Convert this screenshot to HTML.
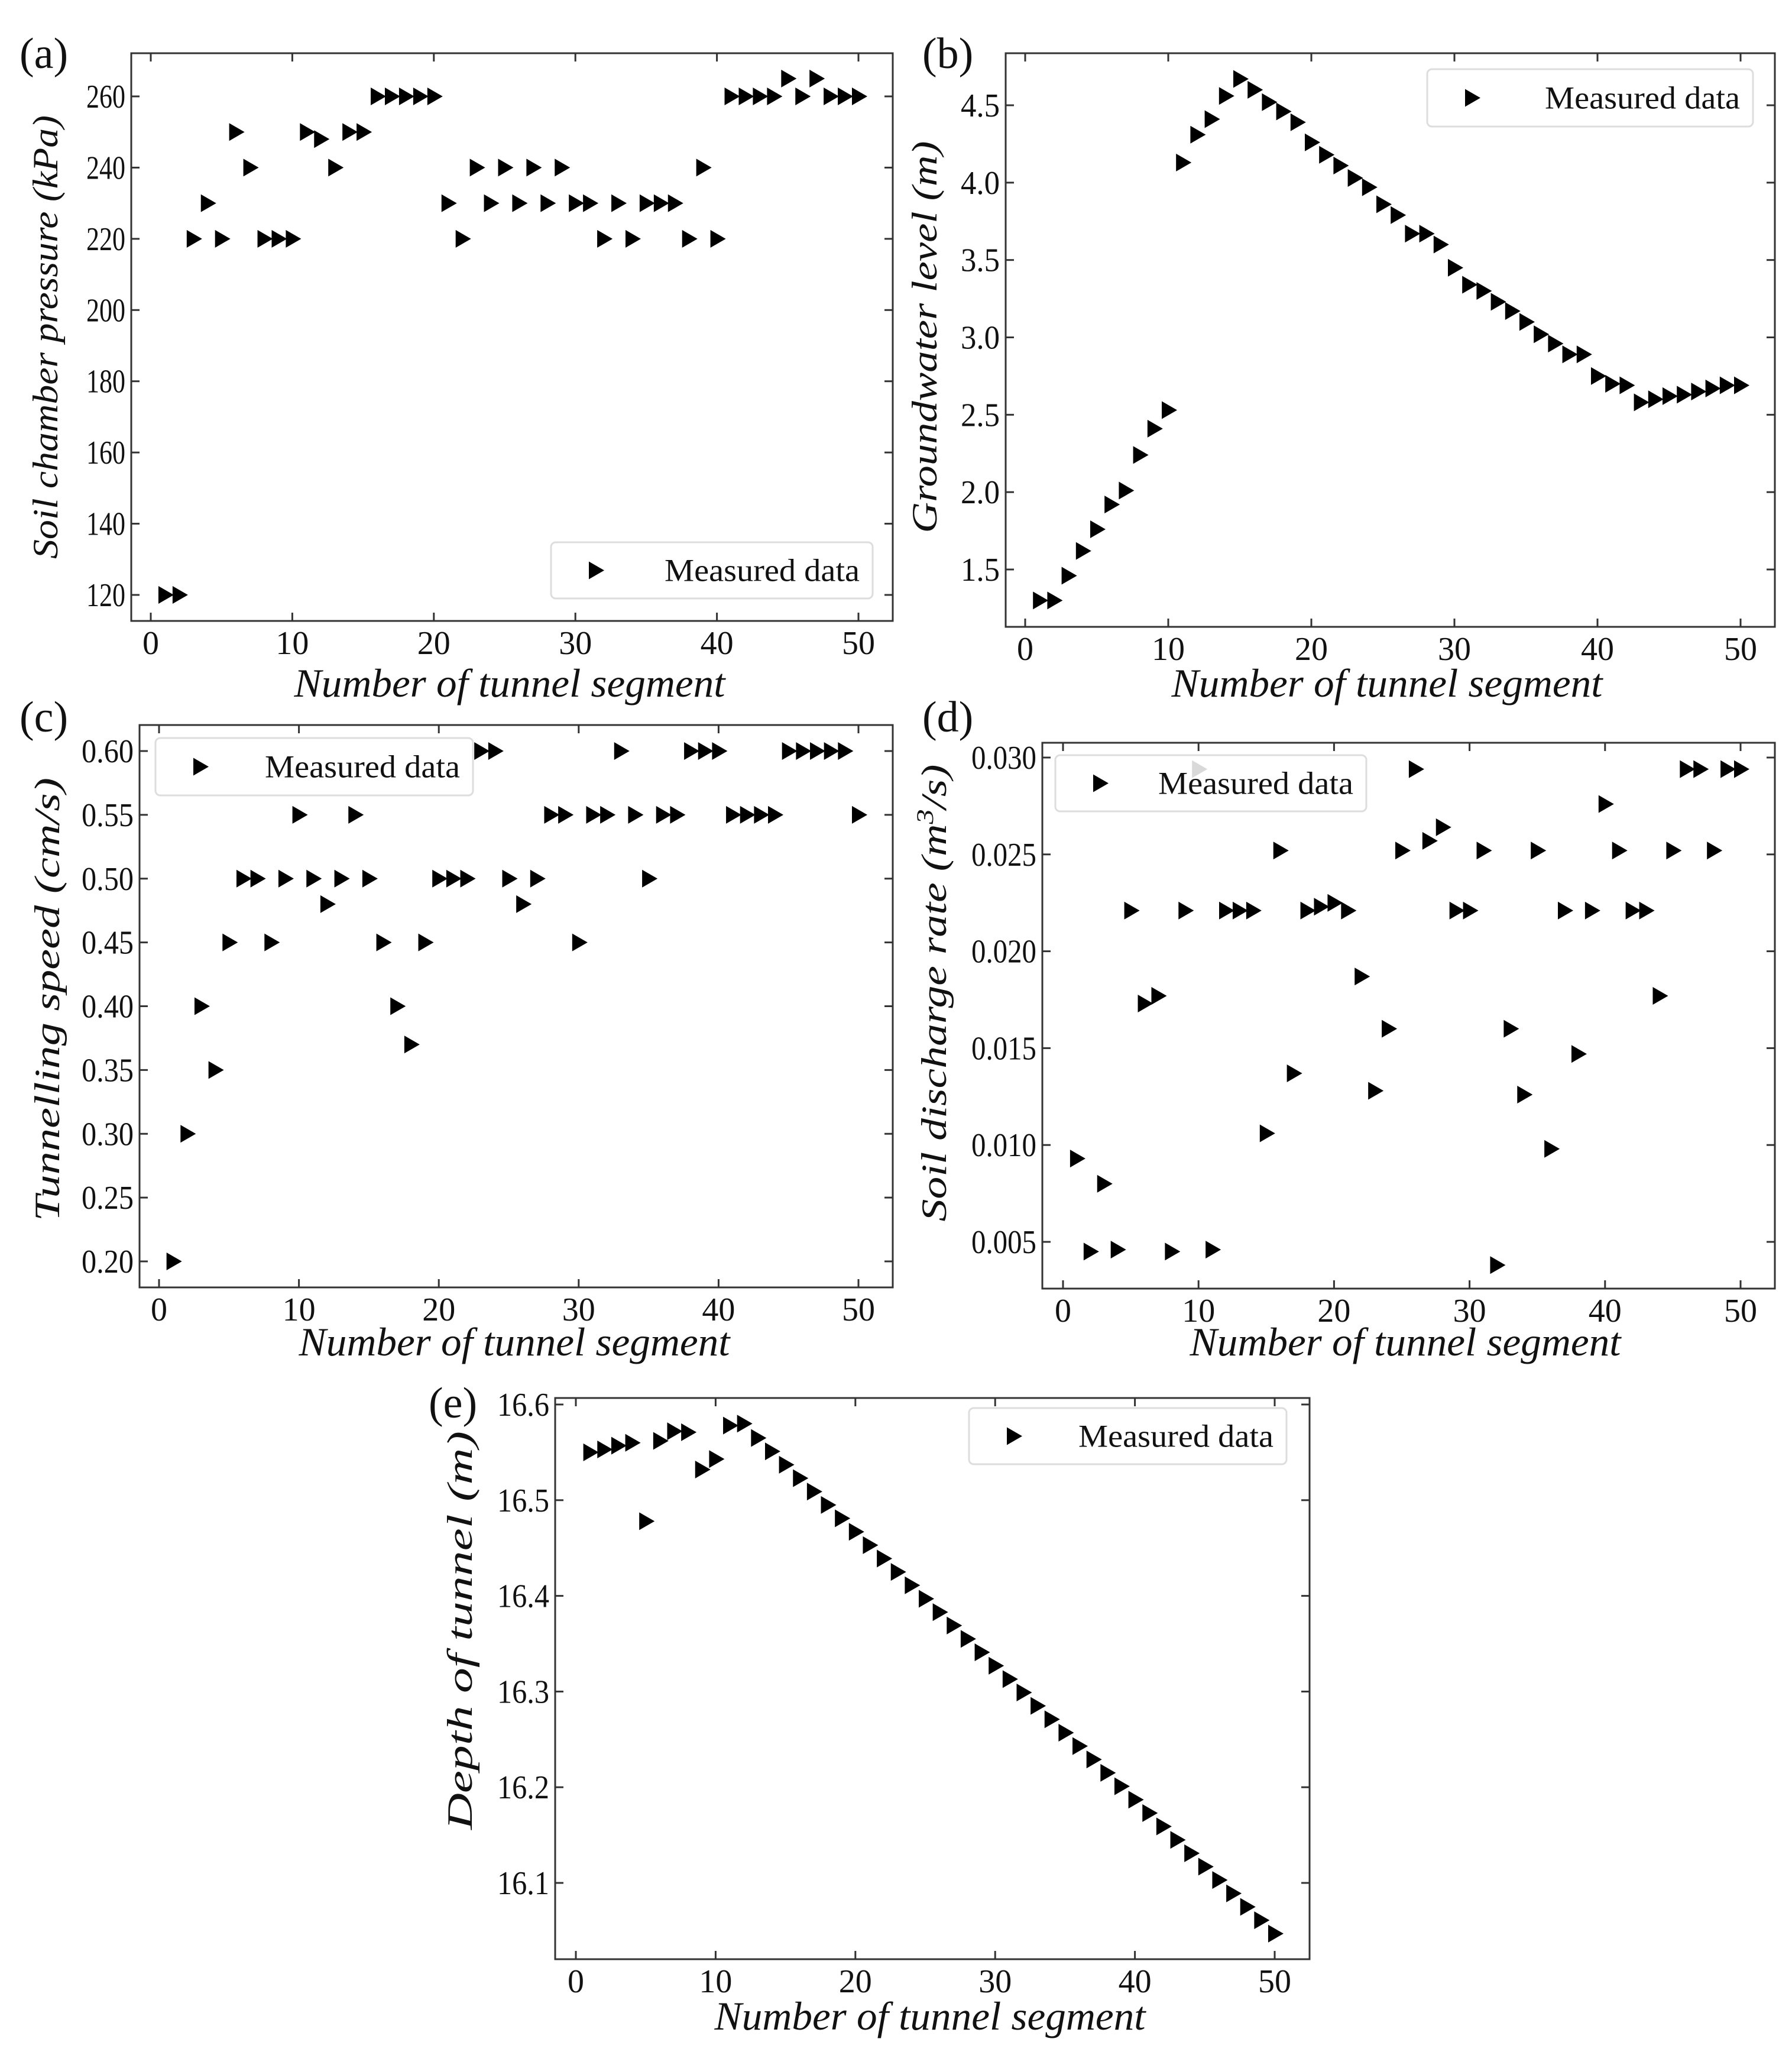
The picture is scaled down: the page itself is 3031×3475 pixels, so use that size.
<!DOCTYPE html>
<html><head><meta charset="utf-8"><style>
html,body{margin:0;padding:0;background:#fff}
svg{display:block}
svg text{font-family:"Liberation Serif","DejaVu Serif",serif;fill:#111}
</style></head><body>
<svg id="fig" width="3031" height="3475" viewBox="0 0 3031 3475" xmlns="http://www.w3.org/2000/svg" font-family="Liberation Serif, DejaVu Serif, serif"></svg>
<script>
const segs=[1,2,3,4,5,6,7,8,9,10,11,12,13,14,15,16,17,18,19,20,21,22,23,24,25,26,27,28,29,30,31,32,33,34,35,36,37,38,39,40,41,42,43,44,45,46,47,48,49,50];
const xTicks=[0,10,20,30,40,50];
const pressureVals=[120,120,220,230,220,250,240,220,220,220,250,248,240,250,250,260,260,260,260,260,230,220,240,230,240,230,240,230,240,230,230,220,230,220,230,230,230,220,240,220,260,260,260,260,265,260,265,260,260,260];
const pressureTicks=[120,140,160,180,200,220,240,260];
const groundVals=[1.30,1.30,1.46,1.62,1.76,1.92,2.01,2.24,2.41,2.53,4.13,4.31,4.41,4.56,4.67,4.60,4.52,4.46,4.39,4.26,4.18,4.11,4.03,3.97,3.86,3.79,3.67,3.67,3.60,3.45,3.34,3.30,3.23,3.17,3.10,3.02,2.96,2.89,2.89,2.75,2.70,2.69,2.58,2.60,2.62,2.63,2.65,2.67,2.69,2.69];
const groundTicks=[1.5,2.0,2.5,3.0,3.5,4.0,4.5];
const speedVals=[0.20,0.30,0.40,0.35,0.45,0.50,0.50,0.45,0.50,0.55,0.50,0.48,0.50,0.55,0.50,0.45,0.40,0.37,0.45,0.50,0.50,0.50,0.60,0.60,0.50,0.48,0.50,0.55,0.55,0.45,0.55,0.55,0.60,0.55,0.50,0.55,0.55,0.60,0.60,0.60,0.55,0.55,0.55,0.55,0.60,0.60,0.60,0.60,0.60,0.55];
const speedTicks=[0.20,0.25,0.30,0.35,0.40,0.45,0.50,0.55,0.60];
const dischargeVals=[0.0093,0.0045,0.0080,0.0046,0.0221,0.0173,0.0177,0.0045,0.0221,0.0294,0.0046,0.0221,0.0221,0.0221,0.0106,0.0252,0.0137,0.0221,0.0223,0.0225,0.0221,0.0187,0.0128,0.0160,0.0252,0.0294,0.0257,0.0264,0.0221,0.0221,0.0252,0.0038,0.0160,0.0126,0.0252,0.0098,0.0221,0.0147,0.0221,0.0276,0.0252,0.0221,0.0221,0.0177,0.0252,0.0294,0.0294,0.0252,0.0294,0.0294];
const dischargeTicks=[0.005,0.010,0.015,0.020,0.025,0.030];
const depthVals=[16.550,16.553,16.557,16.560,16.478,16.562,16.572,16.571,16.532,16.543,16.578,16.580,16.565,16.551,16.537,16.523,16.509,16.495,16.481,16.467,16.453,16.439,16.425,16.411,16.397,16.383,16.369,16.355,16.341,16.327,16.313,16.299,16.285,16.271,16.257,16.243,16.229,16.215,16.201,16.187,16.173,16.159,16.145,16.131,16.117,16.103,16.089,16.075,16.061,16.047];
const depthTicks=[16.1,16.2,16.3,16.4,16.5,16.6];

const NS="http://www.w3.org/2000/svg";
const svg=document.getElementById('fig');
const FF='Liberation Serif, DejaVu Serif, serif';
function mk(tag,attrs,parent){const e=document.createElementNS(NS,tag);for(const k in attrs)e.setAttribute(k,attrs[k]);if(tag==='text')e.setAttribute('font-family',FF);(parent||svg).appendChild(e);return e;}

const panels=[
 {id:'a',vals:pressureVals,ticks:pressureTicks,fmt:v=>v.toFixed(0),box:[222,90,1510,1050],x0:255,x50:1452,yA:[260,163],yB:[120,1006],
  letter:[33,115],xt:[862,1178,729],yt:[77,570,750,'Soil chamber pressure (kPa)'],leg:[932,917,544,95]},
 {id:'b',vals:groundVals,ticks:groundTicks,fmt:v=>v.toFixed(1),box:[1701,90,3002,1060],x0:1734,x50:2944,yA:[4.5,178],yB:[1.5,963],
  letter:[1560,115],xt:[2346,1178,729],yt:[1564,570,663,'Groundwater level (m)'],leg:[2414,117,551,97]},
 {id:'c',vals:speedVals,ticks:speedTicks,fmt:v=>v.toFixed(2),box:[236,1226,1510,2177],x0:269,x50:1452,yA:[0.60,1270],yB:[0.20,2133],
  letter:[33,1237],xt:[870,2292,729],yt:[80,1690,750,'Tunnelling speed (cm/s)'],leg:[263,1248,537,97]},
 {id:'d',vals:dischargeVals,ticks:dischargeTicks,fmt:v=>v.toFixed(3),box:[1763,1256,3002,2179],x0:1798,x50:2944,yA:[0.030,1281],yB:[0.005,2100],
  letter:[1560,1237],xt:[2377,2292,729],yt:[1580,1679,773,null],leg:[1785,1277,526,95]},
 {id:'e',vals:depthVals,ticks:depthTicks,fmt:v=>v.toFixed(1),box:[939,2364,2215,3313],x0:974,x50:2156,yA:[16.6,2375],yB:[16.1,3184],
  letter:[725,2397],xt:[1573,3432,729],yt:[778,2757,674,'Depth of tunnel (m)'],leg:[1639,2381,537,95]}
];

function tri(g,cx,cy,fill){
  return mk('polygon',{points:`${cx-11},${cy-15} ${cx+15},${cy} ${cx-11},${cy+15}`,fill:fill},g);
}

panels.forEach(P=>{
  const g=mk('g',{});
  
  
  const [L,T,R,B]=P.box;
  const X=v=>P.x0+(P.x50-P.x0)*v/50;
  const Y=v=>P.yA[1]+(P.yB[1]-P.yA[1])*(v-P.yA[0])/(P.yB[0]-P.yA[0]);
  const fr=mk('rect',{x:L,y:T,width:R-L,height:B-T,fill:'none',stroke:'#333','stroke-width':3},g);
  
  
  xTicks.forEach(t=>{
    const x=X(t);
    mk('line',{x1:x,y1:B,x2:x,y2:B-14,stroke:'#333','stroke-width':3},g);
    mk('line',{x1:x,y1:T,x2:x,y2:T+14,stroke:'#333','stroke-width':3},g);
    const tx=mk('text',{x:x,y:B+56,'font-size':56,'text-anchor':'middle'},g);
    tx.textContent=String(t);
    
    
  });
  P.ticks.forEach(t=>{
    const y=Y(t);
    mk('line',{x1:L,y1:y,x2:L+14,y2:y,stroke:'#333','stroke-width':3},g);
    mk('line',{x1:R,y1:y,x2:R-14,y2:y,stroke:'#333','stroke-width':3},g);
    const s=P.fmt(t);
    const ty=mk('text',{x:L-10,y:y+19,'font-size':56,'text-anchor':'end',textLength:s.length*22,lengthAdjust:'spacingAndGlyphs'},g);
    ty.textContent=s;
    
    
  });
  const xt=mk('text',{x:P.xt[0],y:P.xt[1],'font-size':68,'font-style':'italic','text-anchor':'middle',textLength:P.xt[2],lengthAdjust:'spacingAndGlyphs'},g);
  xt.textContent='Number of tunnel segment';
  
  
  const yt=mk('text',{x:0,y:0,'font-size':60,'font-style':'italic','text-anchor':'middle',transform:`translate(${P.yt[0]+20},${P.yt[1]}) rotate(-90)`,textLength:P.yt[2],lengthAdjust:'spacingAndGlyphs'},g);
  if(P.yt[3]) yt.textContent=P.yt[3];
  else { yt.appendChild(document.createTextNode('Soil discharge rate (m'));
    const ts=mk('tspan',{'font-size':40,dy:-22},yt); ts.textContent='3';
    const ts2=mk('tspan',{dy:22},yt); ts2.textContent='/s)'; }
  
  
  const lt=mk('text',{x:P.letter[0],y:P.letter[1],'font-size':74},g);
  lt.textContent='('+P.id+')';
  
  
  segs.forEach((s,i)=>{
    const m=tri(g,X(s),Y(P.vals[i]),'#000');
    
    
  });
  const [lx,ly,lw,lh]=P.leg;
  const lg=mk('g',{},g);
  
  
  mk('rect',{x:lx,y:ly,width:lw,height:lh,rx:8,fill:'rgba(255,255,255,0.85)',stroke:'#ddd','stroke-width':3},lg);
  const lm=tri(lg,lx+75,ly+lh/2,'#000');
  
  
  const ltx=mk('text',{x:lx+lw-22,y:ly+lh/2+18,'font-size':54,'text-anchor':'end',textLength:330,lengthAdjust:'spacingAndGlyphs'},lg);
  ltx.textContent='Measured data';
  
  
});
</script>
</body></html>
